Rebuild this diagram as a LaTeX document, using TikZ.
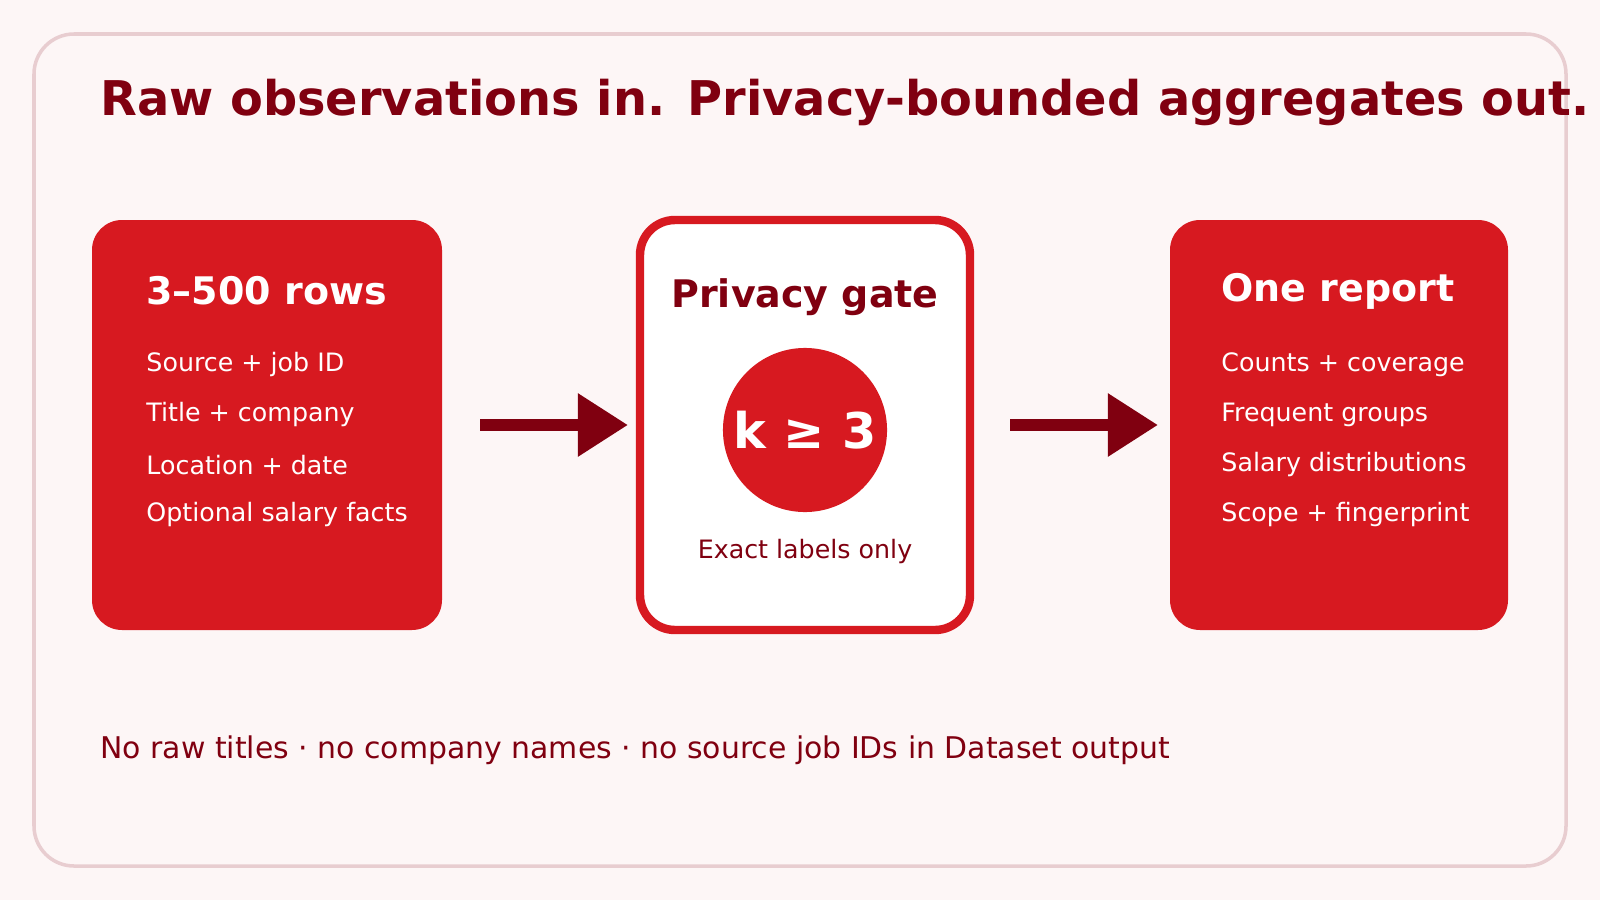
\documentclass[tikz,border=0pt]{standalone}
\usepackage{fontspec}
\setmainfont{DejaVu Sans}
\usetikzlibrary{arrows.meta}
\definecolor{bg}{HTML}{FDF6F6}
\definecolor{frame}{HTML}{E8CDD0}
\definecolor{red}{HTML}{D71920}
\definecolor{dark}{HTML}{800010}
\begin{document}
\begin{tikzpicture}[x=0.01cm,y=-0.01cm,
  box/.style={fill=red,rounded corners=0.3cm},
  head/.style={anchor=west,text=white,font=\fontsize{10.8}{13}\selectfont\bfseries},
  item/.style={anchor=west,text=white,font=\fontsize{7.2}{9}\selectfont},
  arr/.style={draw=dark,line width=3.4pt,-{Triangle[length=0.5cm,width=0.6cm]}}]
\fill[bg] (0,0) rectangle (1600,900);
\useasboundingbox (0,0) rectangle (1600,900);
\draw[frame,line width=1pt,rounded corners=0.4cm] (34,34) rectangle (1566,866);
\node[anchor=west,text=dark,font=\fontsize{13.6}{16}\selectfont\bfseries] (title) at (88,102) {Raw observations in. Privacy-bounded aggregates out.};
% left
\fill[box] (92,220) rectangle (442,630);
\node[head] (lh) at (134,291) {3–500 rows};
\node[item] (l1) at (134,365) {Source + job ID};
\node[item] (l2) at (134,415) {Title + company};
\node[item] (l3) at (134,465) {Location + date};
\node[item] (l4) at (134,515) {Optional salary facts};
\coordinate (lbox) at (442,425);
% middle
\draw[red,fill=white,line width=2.4pt,rounded corners=0.35cm] (640,220) rectangle (970,630);
\node[text=dark,font=\fontsize{10.8}{13}\selectfont\bfseries] (mh) at (805,297) {Privacy gate};
\node[circle,fill=red,minimum size=1.64cm,inner sep=0pt,text=white,font=\fontsize{14}{16}\selectfont\bfseries] (k) at (805,430) {k ≥ 3};
\node[text=dark,font=\fontsize{7.2}{9}\selectfont] (ex) at (805,552) {Exact labels only};
% right
\fill[box] (1170,220) rectangle (1508,630);
\node[head] (rh) at (1209,291) {One report};
\node[item] (r1) at (1209,365) {Counts + coverage};
\node[item] (r2) at (1209,415) {Frequent groups};
\node[item] (r3) at (1209,465) {Salary distributions};
\node[item] (r4) at (1209,515) {Scope + fingerprint};
% arrows
\coordinate (a1) at (480,425); \coordinate (a2) at (628,425);
\coordinate (b1) at (1010,425); \coordinate (b2) at (1158,425);
\draw[arr] (a1) -- (a2);
\draw[arr] (b1) -- (b2);
\node[anchor=west,text=dark,font=\fontsize{8.5}{10}\selectfont] (foot) at (88,750) {No raw titles · no company names · no source job IDs in Dataset output};
\end{tikzpicture}
\end{document}
